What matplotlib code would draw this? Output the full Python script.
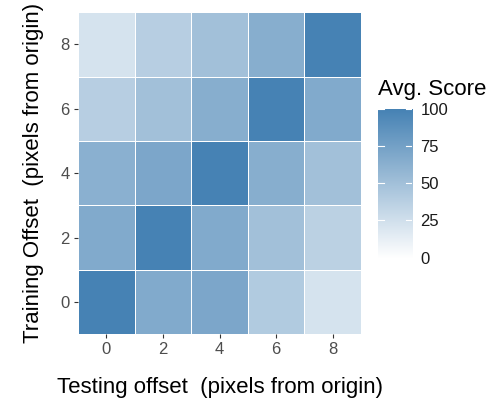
import numpy as np
import matplotlib.pyplot as plt
from matplotlib.colors import LinearSegmentedColormap, Normalize

plt.rcParams['font.family'] = ['Liberation Sans', 'DejaVu Sans']

test_offsets = [0, 2, 4, 6, 8]
train_offsets = [0, 2, 4, 6, 8]
# rows = training offset (0..8), cols = testing offset (0..8)
score_row0 = [100, 68, 71, 42, 23]
score_row2 = [68, 100, 68, 50, 37]
score_row4 = [63, 71, 100, 65, 50]
score_row6 = [39, 50, 65, 100, 68]
score_row8 = [23, 39, 50, 65, 100]
cbar_ticks = [0, 25, 50, 75, 100]

scores = np.array([score_row0, score_row2, score_row4, score_row6, score_row8])

cmap = LinearSegmentedColormap.from_list('wb', ['#FFFFFF', '#4682B4'])
norm = Normalize(0, 100)

fig = plt.figure(figsize=(4.9, 4.05), dpi=100)
ax = fig.add_axes([0.159, 0.175, 0.578, 0.795])

xe = np.arange(len(test_offsets) + 1) * 2 - 1
ye = np.arange(len(train_offsets) + 1) * 2 - 1
ax.pcolormesh(xe, ye, scores, cmap=cmap, norm=norm, edgecolor='white', linewidth=0.6)

ax.set_xlim(-1, 9)
ax.set_ylim(-1, 9)
ax.set_xticks(test_offsets)
ax.set_yticks(train_offsets)
for s in ax.spines.values():
    s.set_visible(False)
ax.tick_params(colors='#333333', labelcolor='#4D4D4D', labelsize=12, length=3, width=0.8, pad=3)
ax.set_xlabel('Testing offset  (pixels from origin)', fontsize=16, labelpad=14)
ax.set_ylabel('Training Offset  (pixels from origin)', fontsize=16, labelpad=12)

# colour bar
cax = fig.add_axes([378 / 490, 1 - 262 / 405, 34 / 490, 156 / 405])
grad = np.linspace(0, 100, 256).reshape(-1, 1)
cax.imshow(grad, cmap=cmap, norm=norm, aspect='auto', origin='lower', extent=[0, 1, 0, 100])
for t in cbar_ticks[1:]:
    cax.plot([0, 0.18], [t, t], color='white', lw=0.8)
    cax.plot([0.82, 1], [t, t], color='white', lw=0.8)
cax.set_xlim(0, 1)
cax.set_ylim(-3, 102)
cax.set_xticks([])
cax.yaxis.tick_right()
cax.set_yticks(cbar_ticks)
cax.tick_params(axis='y', length=0, labelsize=12, labelcolor='#1A1A1A', pad=6)
for s in cax.spines.values():
    s.set_visible(False)
fig.text(378 / 490, 1 - 90 / 405, 'Avg. Score', fontsize=16, va='center', ha='left')

fig.savefig('out.png', dpi=100)
